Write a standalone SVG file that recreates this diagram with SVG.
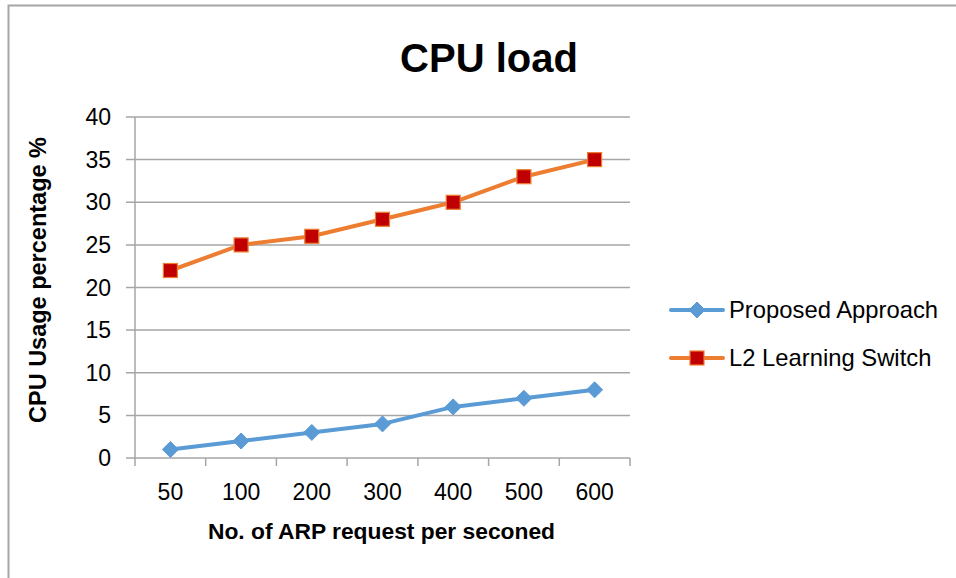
<svg xmlns="http://www.w3.org/2000/svg" width="956" height="578" viewBox="0 0 956 578">
<style>
.t{font-family:"Liberation Sans",Arial,sans-serif;fill:#000}
.yl{font-size:23px;text-anchor:end}
.xl{font-size:23px;text-anchor:middle}
.grid{stroke:#a6a6a6;stroke-width:1.5;fill:none}
.blue{stroke:#5b9bd5;stroke-width:4;fill:none;stroke-linejoin:round;stroke-linecap:round}
.orange{stroke:#ed7d31;stroke-width:4;fill:none;stroke-linejoin:round;stroke-linecap:round}
.sq{fill:#c00000;stroke:#ed7d31;stroke-width:1.2}
.dm{fill:#5b9bd5;stroke:#5b9bd5;stroke-width:1}
</style>
<defs>
<rect id="sqm" x="-7" y="-7" width="14" height="14" class="sq"/>
<path id="dmm" d="M0,-8 L8,0 L0,8 L-8,0 Z" class="dm"/>
</defs>
<rect x="0" y="0" width="956" height="578" fill="#fff"/>
<path d="M8.5,578 V5.5 H956" stroke="#a6a6a6" stroke-width="2" fill="none"/>
<text class="t" x="489" y="72" font-size="40" font-weight="bold" text-anchor="middle">CPU load</text>
<g id="gridlines">
<path class="grid" d="M126,117H630M126,159.6H630M126,202.3H630M126,244.9H630M126,287.5H630M126,330.1H630M126,372.8H630M126,415.4H630M126,458H630"/>
<path class="grid" d="M135,117V466M205.7,458V466M276.4,458V466M347.1,458V466M417.9,458V466M488.6,458V466M559.3,458V466M630,458V466"/>
</g>
<g id="yticks">
<text class="t yl" x="111" y="125">40</text>
<text class="t yl" x="111" y="167.6">35</text>
<text class="t yl" x="111" y="210.3">30</text>
<text class="t yl" x="111" y="252.9">25</text>
<text class="t yl" x="111" y="295.5">20</text>
<text class="t yl" x="111" y="338.1">15</text>
<text class="t yl" x="111" y="380.8">10</text>
<text class="t yl" x="111" y="423.4">5</text>
<text class="t yl" x="111" y="466">0</text>
</g>
<g id="xticks">
<text class="t xl" x="170.4" y="500">50</text>
<text class="t xl" x="241.1" y="500">100</text>
<text class="t xl" x="311.8" y="500">200</text>
<text class="t xl" x="382.5" y="500">300</text>
<text class="t xl" x="453.2" y="500">400</text>
<text class="t xl" x="523.9" y="500">500</text>
<text class="t xl" x="594.6" y="500">600</text>
</g>
<text class="t" x="381.5" y="539" font-size="22.8" font-weight="bold" text-anchor="middle">No. of ARP request per seconed</text>
<text class="t" transform="translate(46,280) rotate(-90)" font-size="23.5" font-weight="bold" text-anchor="middle">CPU Usage percentage %</text>
<g id="connectors">
<polyline class="orange" points="170.4,270.5 241.1,244.9 311.8,236.3 382.5,219.3 453.2,202.3 523.9,176.7 594.6,159.6"/>
<polyline class="blue" points="170.4,449.5 241.1,441 311.8,432.4 382.5,423.9 453.2,406.9 523.9,398.3 594.6,389.8"/>
</g>
<g id="series-l2">
<use href="#sqm" x="170.4" y="270.5"/><use href="#sqm" x="241.1" y="244.9"/><use href="#sqm" x="311.8" y="236.3"/><use href="#sqm" x="382.5" y="219.3"/><use href="#sqm" x="453.2" y="202.3"/><use href="#sqm" x="523.9" y="176.7"/><use href="#sqm" x="594.6" y="159.6"/>
</g>
<g id="series-proposed">
<use href="#dmm" x="170.4" y="449.5"/><use href="#dmm" x="241.1" y="441"/><use href="#dmm" x="311.8" y="432.4"/><use href="#dmm" x="382.5" y="423.9"/><use href="#dmm" x="453.2" y="406.9"/><use href="#dmm" x="523.9" y="398.3"/><use href="#dmm" x="594.6" y="389.8"/>
</g>
<g id="legend">
<line class="blue" x1="671" y1="310" x2="723" y2="310"/>
<use href="#dmm" x="697" y="310"/>
<text class="t" x="729" y="318" font-size="23.8">Proposed Approach</text>
<line class="orange" x1="671" y1="358" x2="723" y2="358"/>
<use href="#sqm" x="697" y="358"/>
<text class="t" x="729" y="366" font-size="23.8">L2 Learning Switch</text>
</g>
</svg>
